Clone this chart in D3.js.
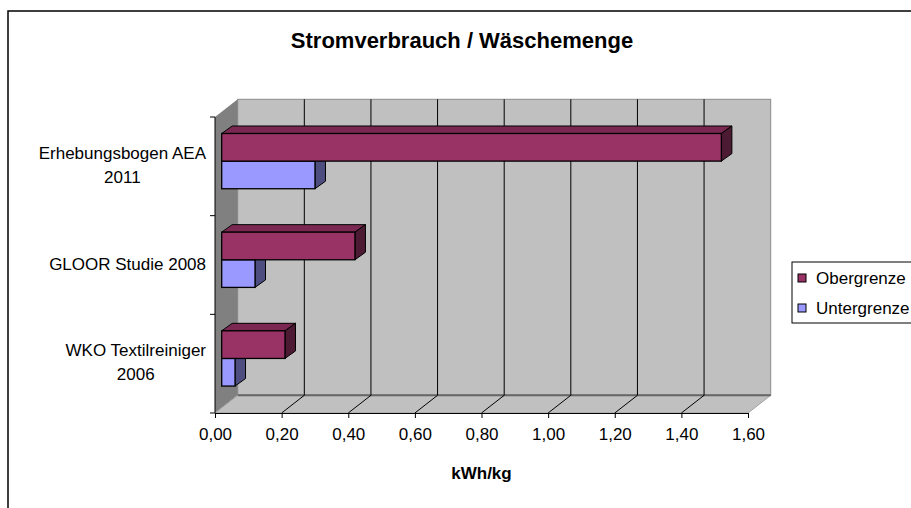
<!DOCTYPE html>
<html>
<head>
<meta charset="utf-8">
<script src="https://cdn.jsdelivr.net/npm/d3@7"></script>
<style>
  html, body { margin: 0; padding: 0; background: #fff; }
  svg { display: block; }
  text { font-family: "Liberation Sans", Arial, sans-serif; fill: #000; }
</style>
</head>
<body>
<svg id="chart" width="911" height="508"></svg>
<script>
// Stromverbrauch je kg Wäsche, Ober- und Untergrenze je Quelle
const categories = ["Erhebungsbogen AEA 2011", "GLOOR Studie 2008", "WKO Textilreiniger 2006"];
const categoryLines = [["Erhebungsbogen AEA", "2011"], ["GLOOR Studie 2008"], ["WKO Textilreiniger", "2006"]];
const seriesNames = ["Obergrenze", "Untergrenze"];
const obergrenze = [1.50, 0.40, 0.19];
const untergrenze = [0.28, 0.10, 0.04];
const xTicks = [0, 0.2, 0.4, 0.6, 0.8, 1.0, 1.2, 1.4, 1.6];

(function () {
const svg = d3.select("#chart");

// plot box (front plane) and the 3D depth offset
const pLeft = 215, pRight = 748, pTop = 117, pBottom = 413;
const DX = 22.7, DY = -17.7;
// bars sit part way into the depth
const BF = 0.295;
const bfx = DX * BF, bfy = DY * BF;
const bdx = 10.5, bdy = -7.5;

const x = d3.scaleLinear().domain([0, 1.6]).range([pLeft, pRight]);
const yBand = d3.scaleBand().domain(categories).range([pTop, pBottom]);
const y = d3.scaleBand().domain(categories).range([pTop, pBottom]).paddingInner(0.44).paddingOuter(0.22);
const ySeries = d3.scaleBand().domain(seriesNames).range([0, y.bandwidth()]);

const colors = {
  Obergrenze: { front: "#993366", top: "#7a2852", side: "#4d1a33" },
  Untergrenze: { front: "#9999ff", top: "#7a7acc", side: "#4d4d80" }
};

// outer chart frame (extends past the window on right/bottom)
svg.append("rect").attr("x", 8).attr("y", 11).attr("width", 1000).attr("height", 600)
  .attr("fill", "#fff").attr("stroke", "#000").attr("stroke-width", 1.5);

// title
svg.append("text").attr("x", 462).attr("y", 40).attr("text-anchor", "middle")
  .attr("dominant-baseline", "central")
  .style("font-size", "22px").style("font-weight", "bold")
  .text("Stromverbrauch / Wäschemenge");

const g = svg.append("g");

// back wall
g.append("rect").attr("x", pLeft + DX).attr("y", pTop + DY)
  .attr("width", pRight - pLeft).attr("height", pBottom - pTop)
  .attr("fill", "#c0c0c0").attr("stroke", "#8c8c8c").attr("stroke-width", 1);

// left wall
g.append("path")
  .attr("d", `M${pLeft},${pTop}L${pLeft + DX},${pTop + DY}L${pLeft + DX},${pBottom + DY}L${pLeft},${pBottom}Z`)
  .attr("fill", "#808080");

// floor
g.append("path")
  .attr("d", `M${pLeft},${pBottom}L${pLeft + DX},${pBottom + DY}L${pRight + DX},${pBottom + DY}L${pRight},${pBottom}Z`)
  .attr("fill", "#c0c0c0").attr("stroke", "#a0a0a0").attr("stroke-width", 1);

// floor back edge
g.append("line").attr("x1", pLeft + DX).attr("x2", pRight + DX)
  .attr("y1", pBottom + DY).attr("y2", pBottom + DY)
  .attr("stroke", "#666").attr("stroke-width", 2);

// gridlines on the back wall and across the floor
const inner = xTicks.slice(1, -1);
g.selectAll("line.grid").data(inner).join("line").attr("class", "grid")
  .attr("x1", d => x(d) + DX).attr("x2", d => x(d) + DX)
  .attr("y1", pTop + DY).attr("y2", pBottom + DY)
  .attr("stroke", "#000").attr("stroke-width", 1);
g.selectAll("line.floorgrid").data(inner).join("line").attr("class", "floorgrid")
  .attr("x1", d => x(d)).attr("x2", d => x(d) + DX)
  .attr("y1", pBottom).attr("y2", pBottom + DY)
  .attr("stroke", "#000").attr("stroke-width", 1);

// 3D bars: draw the lower series first so the upper bar covers its top face
function bar(sel, v, cat, s) {
  const x0 = x(0) + bfx, x1 = x(v) + bfx;
  const y0 = y(cat) + ySeries(s) + bfy, y1 = y0 + ySeries.bandwidth();
  const c = colors[s];
  const grp = sel.append("g");
  grp.append("path")
    .attr("d", `M${x0},${y0}L${x0 + bdx},${y0 + bdy}L${x1 + bdx},${y0 + bdy}L${x1},${y0}Z`)
    .attr("fill", c.top).attr("stroke", "#000").attr("stroke-width", 1).attr("stroke-linejoin", "round");
  grp.append("path")
    .attr("d", `M${x1},${y0}L${x1 + bdx},${y0 + bdy}L${x1 + bdx},${y1 + bdy}L${x1},${y1}Z`)
    .attr("fill", c.side).attr("stroke", "#000").attr("stroke-width", 1).attr("stroke-linejoin", "round");
  grp.append("rect").attr("x", x0).attr("y", y0).attr("width", x1 - x0).attr("height", y1 - y0)
    .attr("fill", c.front).attr("stroke", "#000").attr("stroke-width", 1.3);
}
const bars = g.append("g");
categories.forEach((cat, i) => {
  bar(bars, untergrenze[i], cat, "Untergrenze");
  bar(bars, obergrenze[i], cat, "Obergrenze");
});

// x axis
const fmt = d => d3.format(".2f")(d).replace(".", ",");
const xAxis = svg.append("g").attr("transform", `translate(0,${pBottom})`)
  .call(d3.axisBottom(x).tickValues(xTicks).tickFormat(fmt).tickSize(5).tickSizeOuter(0));
xAxis.select(".domain").attr("stroke", "#000");
xAxis.selectAll(".tick line").attr("stroke", "#000");
xAxis.selectAll(".tick text").attr("y", 15).attr("dy", "0.71em")
  .style("font-size", "17px").style("font-family", "'Liberation Sans', Arial, sans-serif");

// y axis line and category boundary ticks
const yAxis = svg.append("g");
yAxis.append("line").attr("x1", pLeft).attr("x2", pLeft).attr("y1", pTop).attr("y2", pBottom)
  .attr("stroke", "#000");
const bounds = categories.map(c => yBand(c)).concat([pBottom]);
yAxis.selectAll("line.t").data(bounds).join("line").attr("class", "t")
  .attr("x1", pLeft - 5).attr("x2", pLeft).attr("y1", d => d).attr("y2", d => d)
  .attr("stroke", "#000");

// category labels: a centred block whose right edge sits by the axis
const lineH = 24;
categories.forEach((cat, i) => {
  const lines = categoryLines[i];
  const cy = yBand(cat) + yBand.bandwidth() / 2 - 1;
  const tg = svg.append("g");
  const texts = tg.selectAll("text").data(lines).join("text")
    .attr("text-anchor", "middle").attr("dominant-baseline", "central")
    .style("font-size", "17px")
    .attr("y", (d, j) => cy + (j - (lines.length - 1) / 2) * lineH)
    .text(d => d);
  let maxW = 0;
  texts.each(function () { maxW = Math.max(maxW, this.getComputedTextLength()); });
  texts.attr("x", 206 - maxW / 2);
});

// axis title
svg.append("text").attr("x", (pLeft + pRight) / 2).attr("y", 473)
  .attr("text-anchor", "middle").attr("dominant-baseline", "central")
  .style("font-size", "17px").style("font-weight", "bold").text("kWh/kg");

// legend
const lg = svg.append("g");
lg.append("rect").attr("x", 792).attr("y", 262).attr("width", 200).attr("height", 61)
  .attr("fill", "#fff").attr("stroke", "#000").attr("stroke-width", 1);
seriesNames.forEach((s, i) => {
  const cy = 278 + i * 30;
  lg.append("rect").attr("x", 798).attr("y", cy - 4).attr("width", 8).attr("height", 8)
    .attr("fill", colors[s].front).attr("stroke", "#000").attr("stroke-width", 1);
  lg.append("text").attr("x", 816).attr("y", cy).attr("dominant-baseline", "central")
    .style("font-size", "17px").text(s);
});
})();
</script>
</body>
</html>
